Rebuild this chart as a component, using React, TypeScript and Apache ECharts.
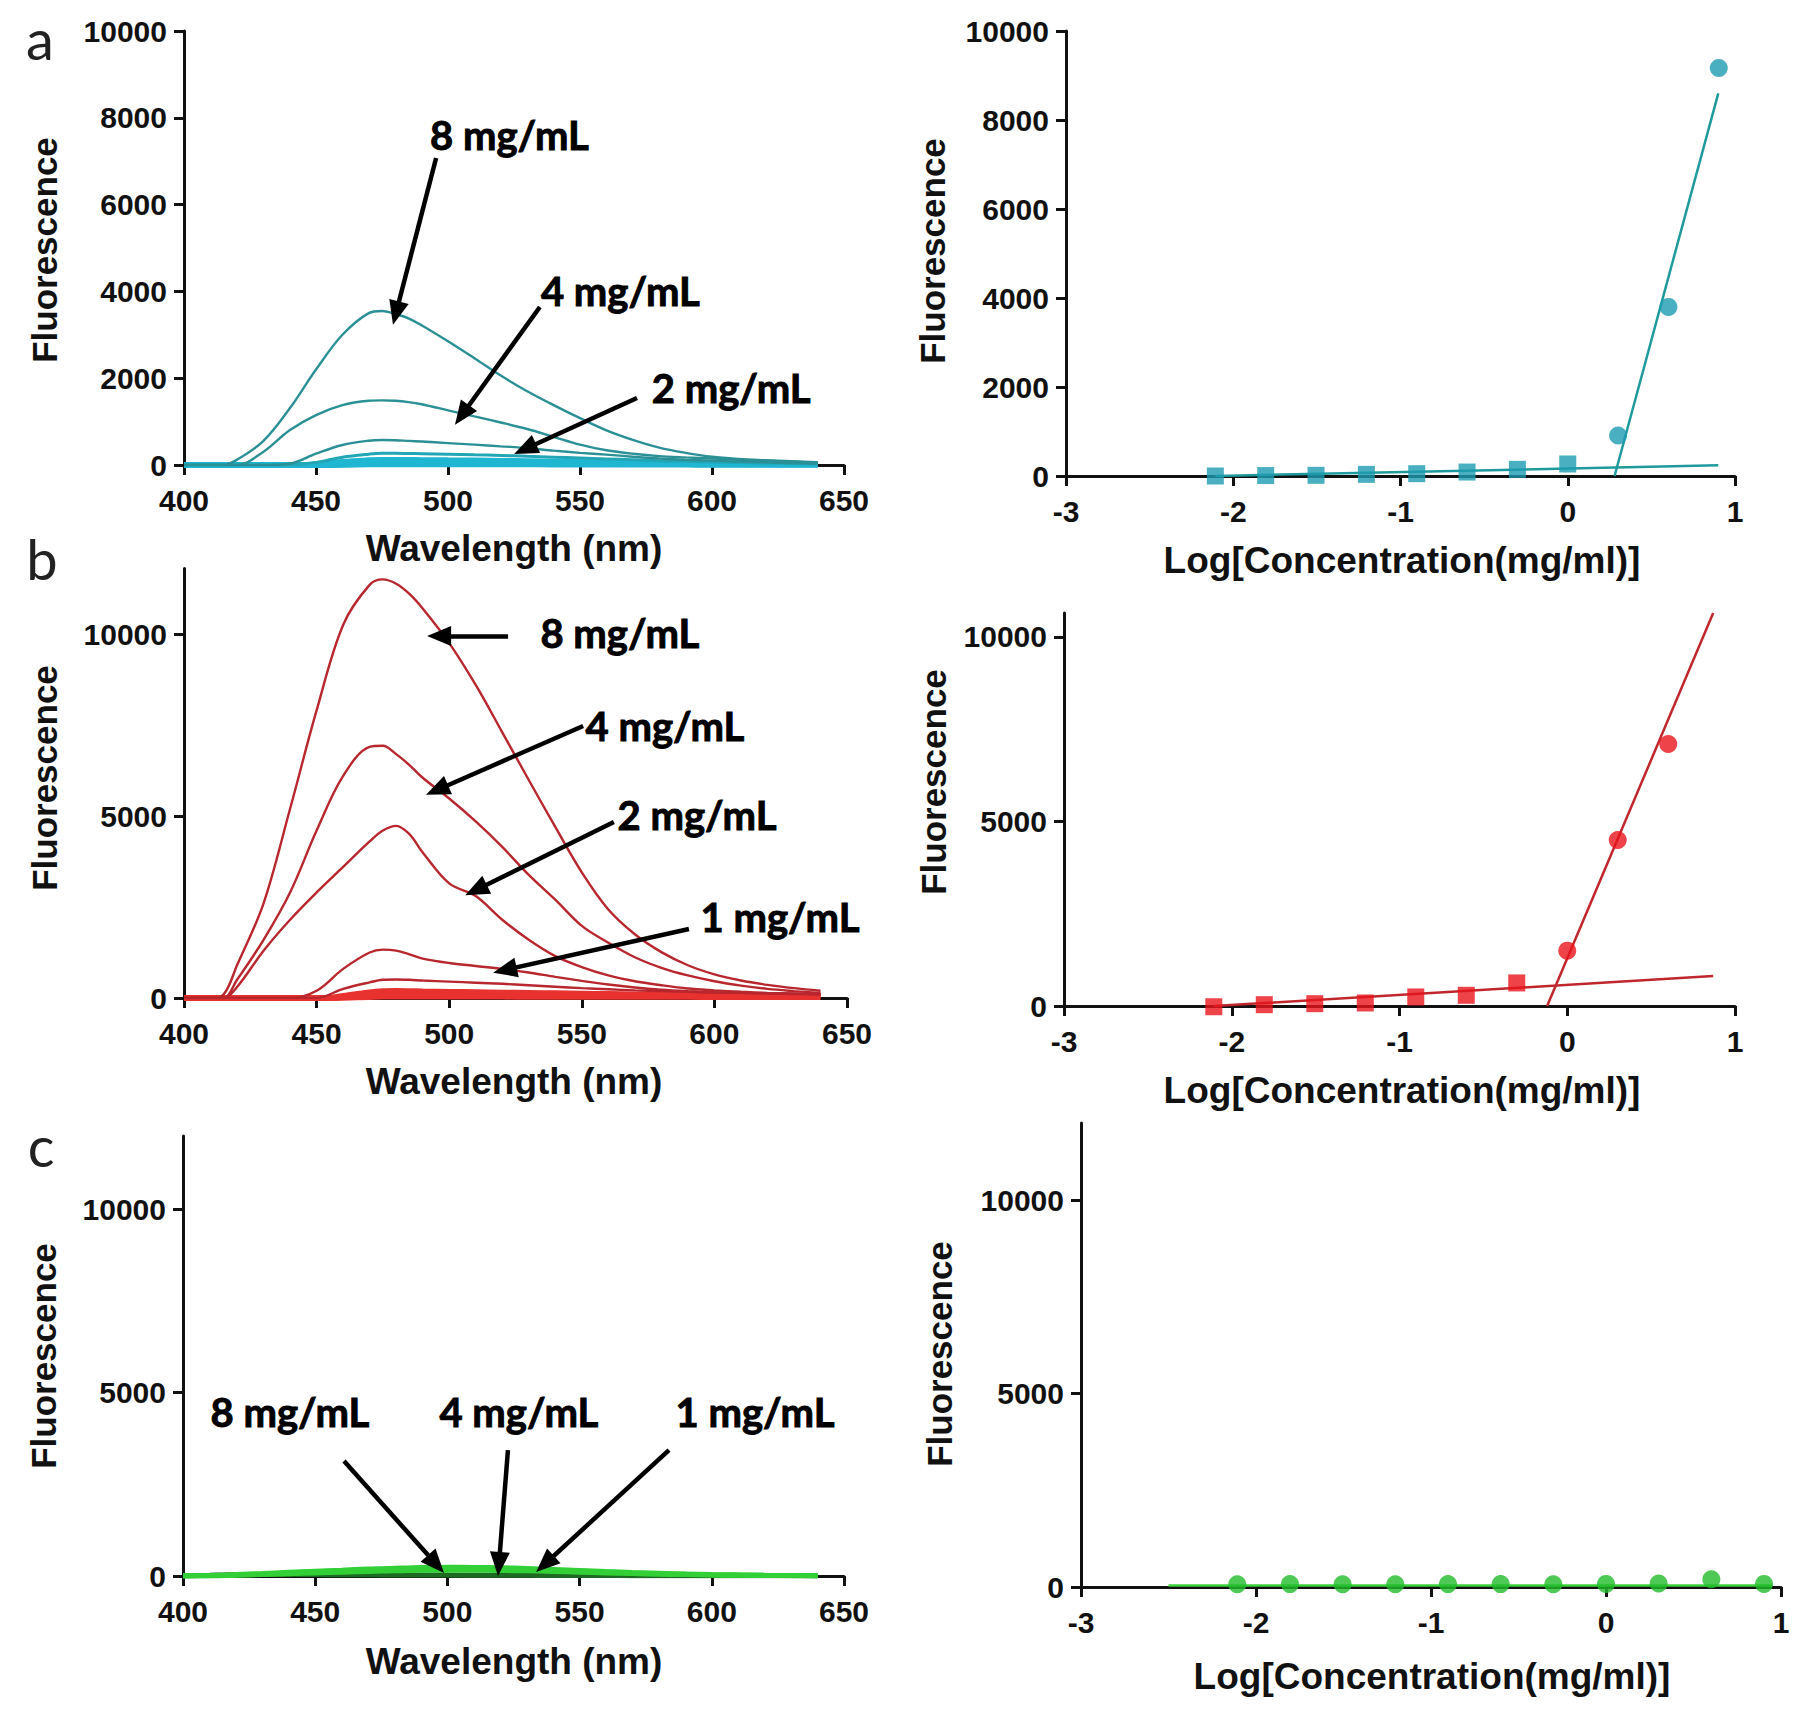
import React, { useEffect, useRef } from "react";
import * as echarts from "echarts";

// ---------- data ----------
const WAVELENGTH = [400, 410, 415, 420, 430, 440, 450, 460, 470, 475, 480, 485, 490, 500, 510, 520, 530, 540, 550, 560, 570, 580, 590, 600, 610, 620, 630, 640];

// panel a spectra (teal)
const A_8 = [0, 0, 0, 120, 550, 1300, 2200, 3000, 3500, 3550, 3480, 3380, 3220, 2850, 2460, 2060, 1700, 1380, 1080, 800, 580, 400, 280, 190, 140, 110, 85, 65];
const A_4 = [0, 0, 0, 0, 300, 800, 1150, 1380, 1480, 1490, 1480, 1450, 1400, 1260, 1120, 980, 830, 650, 470, 340, 260, 205, 175, 150, 120, 100, 80, 60];
const A_2 = [0, 0, 0, 0, 0, 30, 260, 460, 560, 575, 570, 555, 540, 505, 470, 430, 390, 330, 280, 240, 190, 150, 120, 100, 80, 60, 45, 30];
const A_1 = [0, 0, 0, 0, 0, 0, 60, 180, 250, 270, 270, 265, 260, 250, 235, 220, 200, 180, 160, 140, 120, 100, 85, 70, 55, 45, 35, 25];
const A_05 = [0, 0, 0, 0, 0, 0, 20, 90, 130, 140, 140, 138, 135, 130, 125, 118, 110, 100, 92, 84, 75, 66, 58, 50, 42, 35, 28, 22];
const A_025 = [0, 0, 0, 0, 0, 0, 0, 40, 70, 75, 76, 75, 74, 72, 70, 66, 62, 58, 54, 50, 45, 40, 36, 32, 28, 24, 20, 16];
const A_0125 = [0, 0, 0, 0, 0, 0, 0, 15, 35, 40, 40, 40, 39, 38, 37, 35, 33, 31, 29, 27, 25, 23, 21, 19, 17, 15, 13, 11];
const A_LOW = [0, 0, 0, 0, 0, 0, 0, 5, 15, 18, 18, 18, 18, 17, 17, 16, 15, 14, 13, 12, 11, 10, 9, 8, 7, 6, 5, 4];

// panel b spectra (red)
const B_8 = [0, 0, 100, 900, 2600, 5200, 7900, 10250, 11350, 11500, 11380, 11100, 10700, 9750, 8600, 7300, 5990, 4700, 3450, 2430, 1750, 1260, 900, 650, 480, 360, 270, 200];
const B_4 = [0, 0, 0, 500, 1600, 2900, 4600, 6100, 6900, 6930, 6700, 6400, 6050, 5480, 4850, 4150, 3380, 2700, 1980, 1520, 1120, 830, 620, 460, 340, 250, 190, 140];
const B_2 = [0, 0, 0, 300, 1300, 2150, 2900, 3600, 4300, 4600, 4730, 4500, 4000, 3150, 2800, 2150, 1600, 1150, 850, 620, 460, 350, 260, 210, 170, 140, 120, 100];
const B_1 = [0, 0, 0, 0, 0, 0, 200, 800, 1250, 1330, 1300, 1200, 1080, 960, 880, 800, 700, 580, 470, 370, 290, 230, 190, 160, 140, 120, 110, 100];
const B_05 = [0, 0, 0, 0, 0, 0, 0, 250, 430, 500, 510, 500, 480, 450, 420, 390, 350, 310, 270, 240, 210, 190, 170, 150, 140, 130, 120, 110];
const B_025 = [0, 0, 0, 0, 0, 0, 0, 80, 180, 210, 220, 215, 205, 195, 185, 175, 165, 155, 145, 135, 125, 118, 110, 104, 98, 92, 86, 80];
const B_0125 = [0, 0, 0, 0, 0, 0, 0, 30, 80, 100, 105, 104, 102, 98, 95, 92, 88, 84, 80, 76, 72, 68, 64, 60, 56, 52, 48, 44];
const B_LOW = [0, 0, 0, 0, 0, 0, 0, 10, 30, 40, 42, 42, 41, 40, 39, 38, 37, 36, 35, 34, 33, 32, 31, 30, 29, 28, 27, 26];

// panel c spectra (green)
const C_8 = [0, 10, 20, 40, 70, 100, 130, 160, 190, 200, 210, 220, 230, 240, 235, 225, 205, 180, 150, 120, 95, 75, 55, 40, 30, 20, 14, 8];
const C_4 = [0, 8, 15, 30, 55, 85, 115, 140, 165, 175, 185, 195, 200, 210, 205, 195, 180, 160, 135, 110, 85, 65, 50, 36, 26, 18, 12, 7];
const C_1 = [0, 5, 10, 20, 40, 60, 85, 105, 125, 135, 140, 150, 155, 160, 158, 150, 140, 125, 105, 85, 65, 50, 38, 28, 20, 14, 10, 6];
const C_DARK = [0, 20, 30, 35, 40, 40, 38, 35, 32, 30, 30, 28, 26, 24, 22, 20, 18, 16, 14, 12, 10, 9, 8, 7, 6, 5, 4, 3];

// concentration-response panels
const LOG_CONC = [-2.107, -1.806, -1.505, -1.204, -0.903, -0.602, -0.301, 0, 0.301, 0.602, 0.903];
const A_SQUARE = [0, 10, 15, 37, 52, 89, 149, 270];
const A_CIRCLE = [910, 3800, 9170];
const A_FIT_STEEP_X = [0.28, 0.9];
const A_FIT_STEEP_Y = [0, 8600];
const A_FIT_FLAT_X = [-2.107, 0.9];
const A_FIT_FLAT_Y = [0, 240];

const B_SQUARE = [-20, 36, 63, 82, 245, 290, 625];
const B_CIRCLE = [1500, 4500, 7100];
const B_FIT_STEEP_X = [-0.12, 0.87];
const B_FIT_STEEP_Y = [0, 10650];
const B_FIT_FLAT_X = [-2.107, 0.87];
const B_FIT_FLAT_Y = [0, 810];

const C_CIRCLE = [70, 75, 70, 70, 75, 75, 70, 80, 90, 200, 80];
const C_FIT_X = [-2.5, 0.95];
const C_FIT_Y = [40, 40];

// annotations: label [x, y] and arrow [x1, y1, x2, y2] in data units
const A_LABELS = ["8 mg/mL", "4 mg/mL", "2 mg/mL"];
const A_LABEL_POS = [[493, 7600], [535, 4000], [577, 1770]];
const A_ARROWS = [[495.5, 7074, 480.3, 3502], [534.8, 3641, 505.3, 1152], [571.6, 1544, 529.2, 369]];

const B_LABELS = ["8 mg/mL", "4 mg/mL", "2 mg/mL", "1 mg/mL"];
const B_LABEL_POS = [[534.2, 10027], [551.2, 7473], [563.3, 5027], [594.6, 2225]];
const B_ARROWS = [[522.2, 9945, 496.2, 9945], [550.5, 7473, 495.4, 5714], [562.1, 4835, 510.1, 2967], [590.4, 1896, 521, 769]];

const C_LABELS = ["8 mg/mL", "4 mg/mL", "1 mg/mL"];
const C_LABEL_POS = [[410.2, 4469], [496.8, 4469], [586.1, 4469]];
const C_ARROWS = [[460.9, 3134, 495.7, 327], [522.9, 3433, 519.5, 327], [583.8, 3433, 536.9, 327]];

const Y_TITLE = "Fluorescence";
const X_TITLE_SPEC = "Wavelength (nm)";
const X_TITLE_CONC = "Log[Concentration(mg/ml)]";

// ---------- helpers ----------
const TICK_FONT = "'Liberation Sans', Arial, sans-serif";
const ANNOT_FONT = "Lato, 'Open Sans', sans-serif";
const INK = "#111";

const pair = (xs: number[], ys: number[]) => xs.map((x, i) => [x, ys[i]]);

function axisCommon() {
  return {
    axisLine: { show: true, onZero: false, lineStyle: { color: INK, width: 3 } },
    axisTick: { show: true, length: 10, lineStyle: { color: INK, width: 3 } },
    splitLine: { show: false },
  };
}

function xAxisDef(gridIndex: number, min: number, max: number, interval: number) {
  return {
    type: "value",
    gridIndex,
    min,
    max,
    interval,
    ...axisCommon(),
    axisLabel: {
      fontFamily: TICK_FONT,
      fontWeight: "bold",
      fontSize: 30,
      color: INK,
      margin: 20,
      formatter: (v: number) => String(v),
    },
  };
}

function yAxisDef(gridIndex: number, max: number, ticks: number[]) {
  return {
    type: "value",
    gridIndex,
    min: 0,
    max,
    ...axisCommon(),
    axisTick: { show: true, length: 10, lineStyle: { color: INK, width: 3 }, customValues: ticks },
    axisLabel: {
      fontFamily: TICK_FONT,
      fontWeight: "bold",
      fontSize: 30,
      color: INK,
      margin: 17,
      customValues: ticks,
      formatter: (v: number) => String(v),
    },
  };
}

function spectrum(idx: number, ys: number[], color: string, width: number, z = 2) {
  return {
    type: "line",
    xAxisIndex: idx,
    yAxisIndex: idx,
    data: pair(WAVELENGTH, ys),
    showSymbol: false,
    smooth: 0.35,
    lineStyle: { color, width },
    z,
  };
}

function fitLine(idx: number, xs: number[], ys: number[], color: string) {
  return {
    type: "line",
    xAxisIndex: idx,
    yAxisIndex: idx,
    data: pair(xs, ys),
    showSymbol: false,
    lineStyle: { color, width: 2.5 },
    z: 3,
  };
}

function points(idx: number, xs: number[], ys: number[], symbol: string, color: string, size: number) {
  return {
    type: "scatter",
    xAxisIndex: idx,
    yAxisIndex: idx,
    data: pair(xs, ys),
    symbol,
    symbolSize: size,
    itemStyle: { color },
    clip: false,
    z: 4,
  };
}

function annotations(idx: number, labels: string[], pos: number[][], arrows: number[][]) {
  return {
    type: "scatter",
    xAxisIndex: idx,
    yAxisIndex: idx,
    symbolSize: 1,
    itemStyle: { color: "rgba(0,0,0,0)" },
    clip: false,
    z: 10,
    data: labels.map((name, i) => ({ name, value: pos[i] })),
    label: {
      show: true,
      position: "right",
      distance: 0,
      formatter: (p: any) => p.name,
      fontFamily: ANNOT_FONT,
      fontWeight: "bold",
      fontSize: 40,
      color: "#000",
      opacity: 1,
      textBorderColor: "#000",
      textBorderWidth: 0.9,
    },
    markLine: {
      silent: true,
      animation: false,
      symbol: ["none", "triangle"],
      symbolSize: [20, 24],
      label: { show: false },
      lineStyle: { color: "#000", width: 4.5, type: "solid" },
      data: arrows.map((a) => [{ coord: [a[0], a[1]] }, { coord: [a[2], a[3]] }]),
    },
  };
}

function text(x: number, y: number, str: string, size: number, opts: any = {}) {
  return {
    type: "text",
    x,
    y,
    rotation: opts.rotation || 0,
    style: {
      text: str,
      fontFamily: opts.family || TICK_FONT,
      fontWeight: opts.weight || "bold",
      fontSize: size,
      fill: opts.fill || INK,
      align: "center",
      verticalAlign: "middle",
    },
  };
}

export default function App() {
  const ref = useRef<HTMLDivElement>(null);

  useEffect(() => {
    document.body.style.margin = "0";
    const chart = echarts.init(ref.current!, null, { renderer: "svg" });

    const teal = "#2a9096";
    const tealMid = "#22a6b6";
    const tealLight = "#1fb6d2";
    const red = "#b8262e";
    const redLight = "#e8322f";
    const green = "#33cf36";
    const greenDark = "#1d6b22";

    const letter = { family: "Lato, sans-serif", weight: "normal", fill: "#222" };

    const option: any = {
      animation: false,
      backgroundColor: "#ffffff",
      grid: [
        { left: 184, top: 31, width: 660, height: 434 },
        { left: 1066, top: 31, width: 669, height: 445 },
        { left: 184, top: 568.5, width: 663, height: 429.5 },
        { left: 1064, top: 613, width: 671, height: 393 },
        { left: 183, top: 1136, width: 661, height: 440 },
        { left: 1081, top: 1123, width: 700, height: 464 },
      ],
      xAxis: [
        xAxisDef(0, 400, 650, 50),
        xAxisDef(1, -3, 1, 1),
        xAxisDef(2, 400, 650, 50),
        xAxisDef(3, -3, 1, 1),
        xAxisDef(4, 400, 650, 50),
        xAxisDef(5, -3, 1, 1),
      ],
      yAxis: [
        yAxisDef(0, 10000, [0, 2000, 4000, 6000, 8000, 10000]),
        yAxisDef(1, 10000, [0, 2000, 4000, 6000, 8000, 10000]),
        yAxisDef(2, 11800, [0, 5000, 10000]),
        yAxisDef(3, 10650, [0, 5000, 10000]),
        yAxisDef(4, 12000, [0, 5000, 10000]),
        yAxisDef(5, 12000, [0, 5000, 10000]),
      ],
      series: [
        // panel a spectra
        spectrum(0, A_LOW, tealLight, 6),
        spectrum(0, A_0125, tealLight, 6),
        spectrum(0, A_025, tealLight, 5),
        spectrum(0, A_05, tealLight, 4),
        spectrum(0, A_1, tealMid, 3),
        spectrum(0, A_2, teal, 2.4),
        spectrum(0, A_4, teal, 2.4),
        spectrum(0, A_8, teal, 2.4),
        annotations(0, A_LABELS, A_LABEL_POS, A_ARROWS),
        // panel a concentration
        fitLine(1, A_FIT_FLAT_X, A_FIT_FLAT_Y, "#1f9a9c"),
        fitLine(1, A_FIT_STEEP_X, A_FIT_STEEP_Y, "#1f9a9c"),
        points(1, LOG_CONC.slice(0, 8), A_SQUARE, "rect", "#1d9bb0", 17),
        points(1, LOG_CONC.slice(8), A_CIRCLE, "circle", "#1d9bb0", 18),
        // panel b spectra
        spectrum(2, B_LOW, redLight, 6),
        spectrum(2, B_0125, redLight, 5),
        spectrum(2, B_025, redLight, 4),
        spectrum(2, B_05, red, 2.4),
        spectrum(2, B_1, red, 2.4),
        spectrum(2, B_2, red, 2.4),
        spectrum(2, B_4, red, 2.4),
        spectrum(2, B_8, red, 2.4),
        annotations(2, B_LABELS, B_LABEL_POS, B_ARROWS),
        // panel b concentration
        fitLine(3, B_FIT_FLAT_X, B_FIT_FLAT_Y, "#c0272d"),
        fitLine(3, B_FIT_STEEP_X, B_FIT_STEEP_Y, "#c0272d"),
        points(3, LOG_CONC.slice(0, 7), B_SQUARE, "rect", "#e8141c", 17),
        points(3, LOG_CONC.slice(7, 10), B_CIRCLE, "circle", "#e8141c", 18),
        // panel c spectra
        spectrum(4, C_DARK, greenDark, 5),
        spectrum(4, C_1, green, 5),
        spectrum(4, C_4, green, 5),
        spectrum(4, C_8, green, 5),
        annotations(4, C_LABELS, C_LABEL_POS, C_ARROWS),
        // panel c concentration
        fitLine(5, C_FIT_X, C_FIT_Y, "#3ad13a"),
        points(5, LOG_CONC, C_CIRCLE, "circle", "#22bb2a", 18),
      ],
      graphic: [
        text(40, 38, "a", 56, letter),
        text(42, 558, "b", 56, letter),
        text(41, 1145, "c", 56, letter),
        text(44, 250, Y_TITLE, 35, { rotation: Math.PI / 2 }),
        text(932, 251, Y_TITLE, 35, { rotation: Math.PI / 2 }),
        text(44, 778, Y_TITLE, 35, { rotation: Math.PI / 2 }),
        text(933, 782, Y_TITLE, 35, { rotation: Math.PI / 2 }),
        text(43, 1356, Y_TITLE, 35, { rotation: Math.PI / 2 }),
        text(939, 1354, Y_TITLE, 35, { rotation: Math.PI / 2 }),
        text(514, 548, X_TITLE_SPEC, 37),
        text(1402, 560, X_TITLE_CONC, 37),
        text(514, 1081, X_TITLE_SPEC, 37),
        text(1402, 1090, X_TITLE_CONC, 37),
        text(514, 1661, X_TITLE_SPEC, 37),
        text(1432, 1676, X_TITLE_CONC, 37),
      ],
    };

    chart.setOption(option);
    return () => chart.dispose();
  }, []);

  return <div ref={ref} style={{ width: 1800, height: 1709 }} />;
}
